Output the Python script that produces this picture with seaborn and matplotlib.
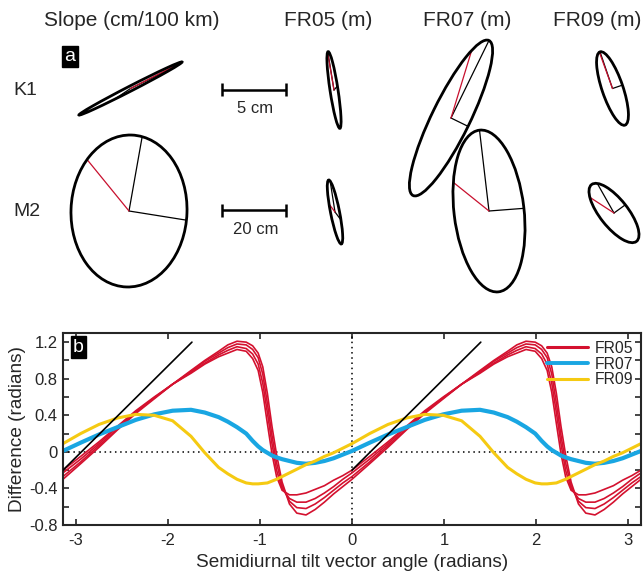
import numpy as np
import pandas as pd
import seaborn as sns
import matplotlib.pyplot as plt
from matplotlib.patches import Ellipse
from matplotlib.lines import Line2D

sns.set_style("ticks")
plt.rcParams['font.family'] = ['Liberation Sans', 'DejaVu Sans']
plt.rcParams['axes.unicode_minus'] = False

# ---- panel b data: one semidiurnal cycle (the curves repeat every pi) ----
angle = [-3.1416, -2.95, -2.75, -2.55, -2.35, -2.15, -1.95, -1.75, -1.6, -1.45,
         -1.35, -1.25, -1.15, -1.08, -1.02, -0.97, -0.92, -0.87, -0.82, -0.76,
         -0.68, -0.6, -0.5, -0.4, -0.3, -0.2, -0.1, 0.0]
fr05_a = [-0.30, -0.13, 0.05, 0.24, 0.42, 0.58, 0.74, 0.89, 1.00, 1.10, 1.17, 1.21, 1.20, 1.16,
          1.08, 0.93, 0.64, 0.28, -0.03, -0.33, -0.57, -0.67, -0.69, -0.63, -0.55, -0.46, -0.38, -0.30]
fr05_b = [-0.27, -0.11, 0.07, 0.25, 0.43, 0.59, 0.74, 0.88, 0.99, 1.08, 1.14, 1.18, 1.17, 1.12,
          1.03, 0.85, 0.53, 0.18, -0.12, -0.37, -0.54, -0.61, -0.62, -0.57, -0.50, -0.42, -0.34, -0.27]
fr05_c = [-0.23, -0.08, 0.09, 0.27, 0.44, 0.59, 0.74, 0.87, 0.97, 1.06, 1.11, 1.15, 1.13, 1.07,
          0.96, 0.75, 0.43, 0.09, -0.20, -0.40, -0.51, -0.55, -0.55, -0.51, -0.45, -0.38, -0.30, -0.23]
fr05_d = [-0.20, -0.05, 0.11, 0.28, 0.45, 0.60, 0.74, 0.86, 0.96, 1.04, 1.08, 1.12, 1.10, 1.02,
          0.89, 0.65, 0.31, -0.02, -0.27, -0.42, -0.47, -0.47, -0.45, -0.41, -0.37, -0.31, -0.26, -0.20]
fr07 = [0.01, 0.10, 0.19, 0.27, 0.35, 0.41, 0.45, 0.46, 0.43, 0.38, 0.33, 0.27, 0.20, 0.12,
        0.06, 0.02, -0.01, -0.04, -0.06, -0.08, -0.10, -0.12, -0.13, -0.12, -0.10, -0.07, -0.03, 0.01]
fr09 = [0.09, 0.20, 0.30, 0.37, 0.41, 0.40, 0.34, 0.17, -0.01, -0.17, -0.24, -0.30, -0.34, -0.35,
        -0.35, -0.345, -0.34, -0.32, -0.30, -0.27, -0.23, -0.19, -0.14, -0.10, -0.05, -0.01, 0.04, 0.09]

# slope-one guide lines
ref_x = [[-3.1416, -1.74], [0.0, 1.40]]
ref_y = [[-0.20, 1.20], [-0.20, 1.20]]

stations = ["FR05", "FR07", "FR09"]
colors = {"FR05": "#D4112F", "FR07": "#19A6E2", "FR09": "#F5CA12"}
widths = {"FR05": 1.2, "FR07": 3.0, "FR09": 2.2}

yticks = [-0.8, -0.6, -0.4, -0.2, 0, 0.2, 0.4, 0.6, 0.8, 1.0, 1.2]
ytick_labels = ["-0.8", "", "-0.4", "", "0", "", "0.4", "", "0.8", "", "1.2"]
xticks = [-3, -2, -1, 0, 1, 2, 3]

# ---- panel a data: tidal ellipses (pixel frame of the top panel) ----
ell_x = [130.5, 129, 334, 335, 451, 489, 612.5, 614]
ell_y = [88.5, 211, 90, 212, 118, 211, 88.5, 213]
ell_a = [58, 76, 38.8, 32.6, 86.3, 81.4, 38.7, 36.2]
ell_b = [2.5, 58, 4, 4.5, 19, 35, 10.5, 14]
ell_ang = [152.8, 92, 81.3, 78.8, 116.1, 83.3, 71.2, 51.6]
ph_black1 = [200, 190.5, 175, 196, 180, 180, 180, 202]
ph_black2 = [290, 275.4, 265, 286, 270, 271, 270, 271]
ph_red = [180, 131.1, 170, 106, 144, 113.6, 176, 139]

col_titles = ["Slope (cm/100 km)", "FR05 (m)", "FR07 (m)", "FR09 (m)"]
col_title_x = [132, 328, 467, 597]
row_labels = ["K1", "M2"]
row_y = [90.5, 211]
bar_labels = ["5 cm", "20 cm"]

# long table for seaborn
x_full = np.concatenate([angle, np.array(angle[1:]) + np.pi])
rows = []
for st, series in [("FR05", [fr05_a, fr05_b, fr05_c, fr05_d]), ("FR07", [fr07]), ("FR09", [fr09])]:
    for k, vals in enumerate(series):
        y_full = np.concatenate([vals, vals[1:]])
        for xv, yv in zip(x_full, y_full):
            rows.append((st, f"{st}_{k}", xv, yv))
df = pd.DataFrame(rows, columns=["station", "line", "angle", "diff"])

fig = plt.figure(figsize=(6.44, 5.74), dpi=100)

# ---------------- panel a ----------------
ax_a = fig.add_axes([0, 274 / 574, 1, 300 / 574])
ax_a.set_xlim(0, 644)
ax_a.set_ylim(300, 0)
ax_a.axis('off')

def ell_point(i, t):
    th = np.deg2rad(ell_ang[i])
    t = np.deg2rad(t)
    u = np.array([np.cos(th), np.sin(th)])
    v = np.array([-np.sin(th), np.cos(th)])
    c = np.array([ell_x[i], ell_y[i]])
    return c + ell_a[i] * np.cos(t) * u + ell_b[i] * np.sin(t) * v

for i in range(len(ell_x)):
    ax_a.add_patch(Ellipse((ell_x[i], ell_y[i]), 2 * ell_a[i], 2 * ell_b[i], angle=ell_ang[i],
                           fill=False, ec='black', lw=2.0, zorder=3))
    for t, col in [(ph_black1[i], 'black'), (ph_black2[i], 'black'), (ph_red[i], '#C8102E')]:
        p = ell_point(i, t)
        ax_a.plot([ell_x[i], p[0]], [ell_y[i], p[1]], color=col, lw=0.9, zorder=2)

for t, x in zip(col_titles, col_title_x):
    ax_a.text(x, 20, t, ha='center', va='center', fontsize=15)
for t, y in zip(row_labels, row_y):
    ax_a.text(13, y, t, ha='left', va='center', fontsize=14)
for t, y in zip(bar_labels, row_y):
    ax_a.plot([222.5, 286], [y - 1, y - 1], color='black', lw=1.8, solid_capstyle='butt')
    for xe in (222.5, 286):
        ax_a.plot([xe, xe], [y - 7.5, y + 5.5], color='black', lw=1.8, solid_capstyle='butt')
    ax_a.text(255.5, y + 18, t, ha='center', va='center', fontsize=12)
ax_a.text(70, 56.5, "a", ha='center', va='center', fontsize=14, color='white',
          bbox=dict(boxstyle='square,pad=0.12', fc='black', ec='black'))

# ---------------- panel b ----------------
ax_b = fig.add_axes([63 / 644, 49 / 574, 578 / 644, 192 / 574])
ax_b.axhline(0, color='black', lw=1.1, ls=(0, (1, 2.4)), zorder=1)
ax_b.axvline(0, color='black', lw=1.1, ls=(0, (1, 2.4)), zorder=1)
for st in stations:
    sns.lineplot(data=df[df.station == st], x="angle", y="diff", units="line", estimator=None,
                 color=colors[st], lw=widths[st], legend=False, ax=ax_b, zorder=2)
for rx, ry in zip(ref_x, ref_y):
    ax_b.plot(rx, ry, color='black', lw=1.2, zorder=4)

ax_b.set_xlim(-np.pi, np.pi)
ax_b.set_ylim(-0.8, 1.3)
ax_b.set_xticks(xticks)
ax_b.set_xticklabels([str(v) for v in xticks])
ax_b.set_yticks(yticks)
ax_b.set_yticklabels(ytick_labels)
ax_b.tick_params(direction='in', length=4, width=1.2, top=True, right=True, labelsize=12)
ax_b.tick_params(axis='x', pad=6)
ax_b.tick_params(axis='y', pad=4)
for s in ax_b.spines.values():
    s.set_linewidth(1.5)
ax_b.set_xlabel("Semidiurnal tilt vector angle (radians)", fontsize=13.7, labelpad=4)
ax_b.set_ylabel("Difference (radians)", fontsize=13.7, labelpad=2)

handles = [Line2D([], [], color=colors[s], lw=l) for s, l in zip(stations, [2.2, 2.8, 2.2])]
ax_b.legend(handles, stations, loc='upper right', frameon=False, fontsize=11.3,
            handlelength=2.6, labelspacing=0.05, handletextpad=0.4, borderaxespad=0.1)
ax_b.text(0.027, 0.927, "b", transform=ax_b.transAxes, ha='center', va='center',
          fontsize=14, color='white', bbox=dict(boxstyle='square,pad=0.12', fc='black', ec='black'))

fig.savefig("out.png", dpi=100)
